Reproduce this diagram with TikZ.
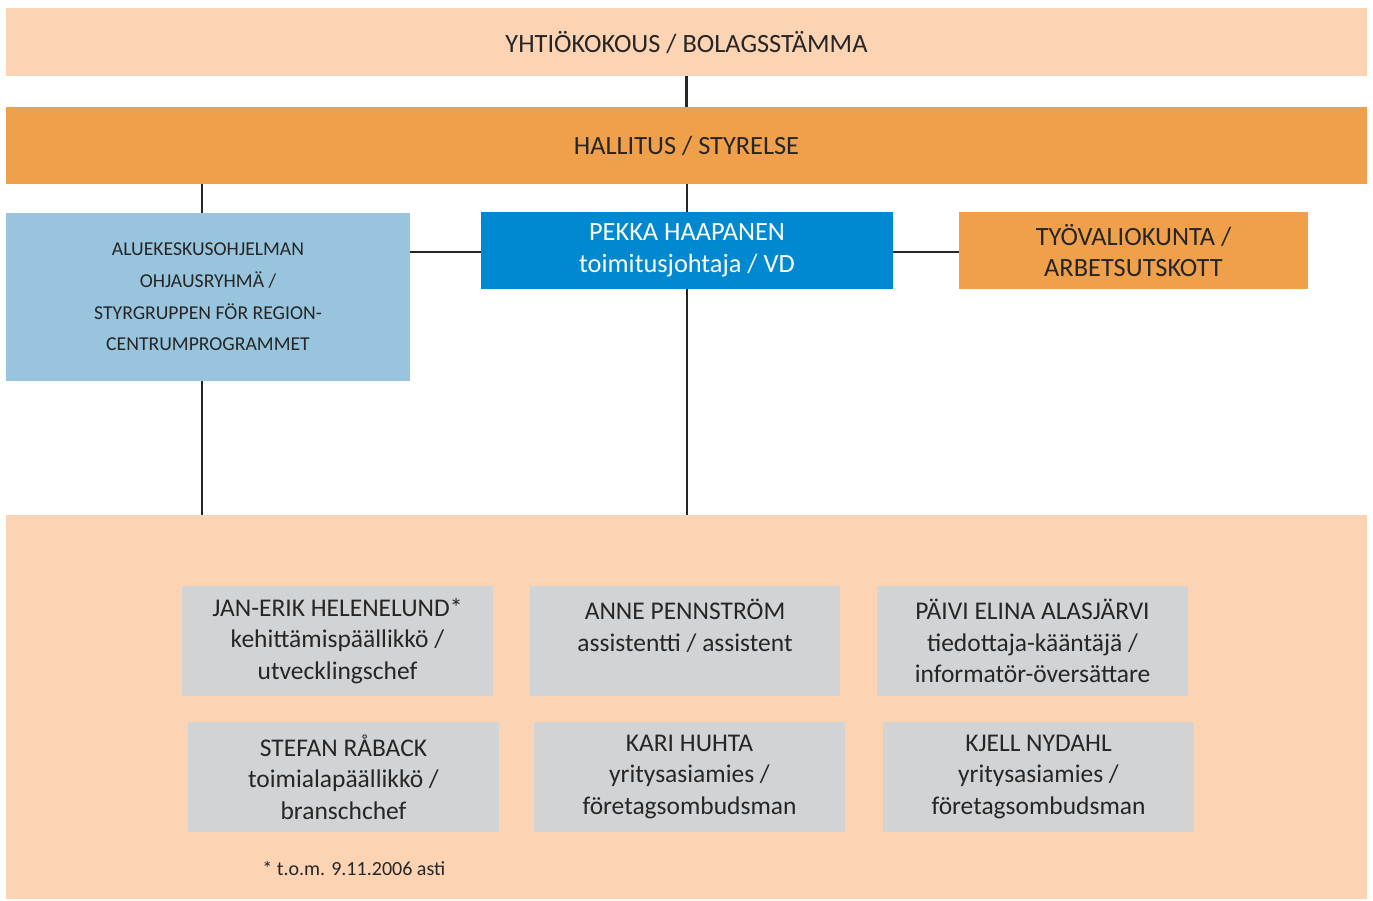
\documentclass[tikz,border=0pt]{standalone}
\usepackage{fontspec}
\setmainfont{Carlito}
\usetikzlibrary{backgrounds}

\definecolor{peach}{HTML}{FCD4B4}
\definecolor{boardorange}{HTML}{F0A04B}
\definecolor{steerblue}{HTML}{98C4DD}
\definecolor{ceoblue}{HTML}{0088D0}
\definecolor{staffgray}{HTML}{D1D3D5}
\definecolor{ink}{HTML}{262626}

\begin{document}
\begin{tikzpicture}[x=0.02cm,y=-0.02cm,
    box/.style={fill=#1, inner sep=0pt, align=center, text=ink,
      font=\fontsize{15}{18}\selectfont},
    person/.style={box=staffgray, minimum width=6.22cm, minimum height=2.2cm,
      font=\fontsize{14.5}{18}\selectfont},
    link/.style={draw=ink, line width=1.35pt}]

  \useasboundingbox (0,0) rectangle (1373,900);

  % governing bodies
  \node[box=peach, minimum width=27.22cm, minimum height=1.36cm]
    (agm) at (686.5,42) {YHTIÖKOKOUS / BOLAGSSTÄMMA};
  \node[box=boardorange, minimum width=27.22cm, minimum height=1.54cm]
    (board) at (686.5,145.5) {HALLITUS / STYRELSE};

  % second level
  \node[box=steerblue, minimum width=8.08cm, minimum height=3.36cm,
        font=\fontsize{11.2}{18}\selectfont]
    (steer) at (208,297) {ALUEKESKUSOHJELMAN\\OHJAUSRYHMÄ /\\STYRGRUPPEN FÖR REGION-\\CENTRUMPROGRAMMET};
  \node[box=ceoblue, text=white, minimum width=8.24cm, minimum height=1.54cm]
    (ceo) at (687,250.5) {PEKKA HAAPANEN\\toimitusjohtaja / VD};
  \node[box=boardorange, minimum width=6.98cm, minimum height=1.54cm]
    (team) at (1133.5,250.5) {TYÖVALIOKUNTA /\\ARBETSUTSKOTT};

  % staff
  \node[box=peach, minimum width=27.22cm, minimum height=7.68cm]
    (staff) at (686.5,707) {};

  \node[person] (jeh) at (337.5,641) {JAN-ERIK HELENELUND*\\kehittämispäällikkö /\\utvecklingschef};
  \node[person] (ap)  at (685,641)   {ANNE PENNSTRÖM\\assistentti / assistent\\\mbox{}};
  \node[person] (pea) at (1032.5,641) {PÄIVI ELINA ALASJÄRVI\\tiedottaja-kääntäjä /\\informatör-översättare};
  \node[person] (sr)  at (343.5,777) {STEFAN RÅBACK\\toimialapäällikkö /\\branschchef};
  \node[person] (kh)  at (689.5,777) {KARI HUHTA\\yritysasiamies /\\företagsombudsman};
  \node[person] (kn)  at (1038.5,777) {KJELL NYDAHL\\yritysasiamies /\\företagsombudsman};

  \node[text=ink, anchor=west, inner sep=0pt, font=\fontsize{11.4}{13}\selectfont]
    (note) at (262,868) {* t.o.m. 9.11.2006 asti};

  % connectors
  \begin{scope}[on background layer]
    \draw[link] (agm) -- (board);
    \draw[link] (board.south -| 202,0) -- (staff.north -| 202,0);
    \draw[link] (board.south -| ceo) -- (staff.north -| ceo);
    \draw[link] (steer.east |- 0,252) -- (team.west |- 0,252);
  \end{scope}

\end{tikzpicture}
\end{document}
